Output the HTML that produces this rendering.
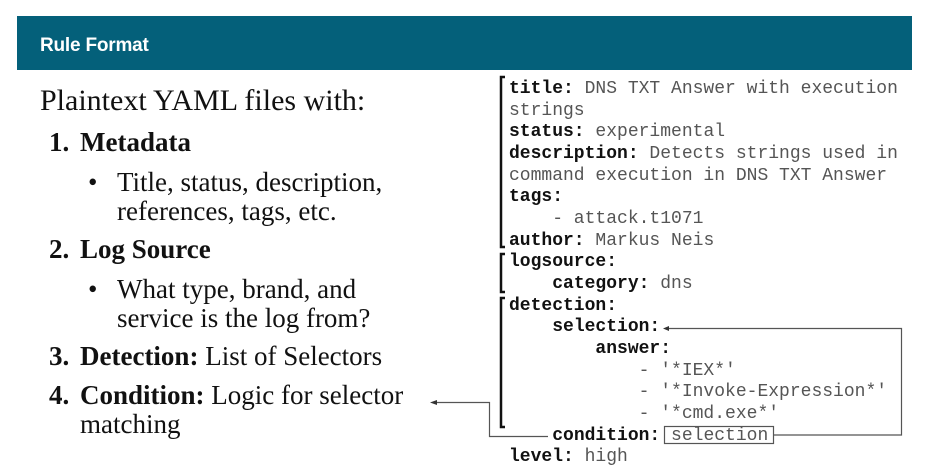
<!DOCTYPE html>
<html><head><meta charset="utf-8"><style>
body{margin:0;width:939px;height:474px;background:#fff;position:relative;overflow:hidden}
.bar{position:absolute;left:17px;top:16px;width:895px;height:54px;background:#04607a}
.bar span{position:absolute;left:23px;top:19px;color:#fff;font:bold 19px "Liberation Sans",sans-serif;letter-spacing:-0.2px}
.s{position:absolute;font-family:"Liberation Serif",serif;color:#111;white-space:nowrap;line-height:1;font-size:27px}
pre{position:absolute;left:509px;top:79px;margin:0;font:18px/21.65px "Liberation Mono",monospace;color:#555}
pre b{color:#111}
</style></head><body>
<div class="bar"><span>Rule Format</span></div>
<div class="s" style="left:40px;top:86px;font-size:30px">Plaintext YAML files with:</div>
<div class="s" style="left:49px;top:129px"><b>1.</b></div><div class="s" style="left:80px;top:129px"><b>Metadata</b></div>
<div class="s" style="left:88px;top:169px">•</div>
<div class="s" style="left:117px;top:169px">Title, status, description,</div>
<div class="s" style="left:117px;top:198px">references, tags, etc.</div>
<div class="s" style="left:49px;top:236px"><b>2.</b></div><div class="s" style="left:80px;top:236px"><b>Log Source</b></div>
<div class="s" style="left:88px;top:276px">•</div>
<div class="s" style="left:117px;top:276px">What type, brand, and</div>
<div class="s" style="left:117px;top:305px">service is the log from?</div>
<div class="s" style="left:49px;top:343px"><b>3.</b></div><div class="s" style="left:80px;top:343px"><b>Detection:</b> List of Selectors</div>
<div class="s" style="left:49px;top:382px"><b>4.</b></div><div class="s" style="left:80px;top:382px"><b>Condition:</b> Logic for selector</div>
<div class="s" style="left:80px;top:411px">matching</div>
<pre><b>title:</b> DNS TXT Answer with execution
strings
<b>status:</b> experimental
<b>description:</b> Detects strings used in
command execution in DNS TXT Answer
<b>tags:</b>
    - attack.t1071
<b>author:</b> Markus Neis
<b>logsource:</b>
    <b>category:</b> dns
<b>detection:</b>
    <b>selection:</b>
        <b>answer:</b>
            - '*IEX*'
            - '*Invoke-Expression*'
            - '*cmd.exe*'
    <b>condition:</b> selection
<b>level:</b> high</pre>
<svg width="939" height="474" style="position:absolute;left:0;top:0" fill="none">
<g stroke="#111" stroke-width="2.5">
<path d="M505 77 H501 V247 H505"/>
<path d="M505 254 H501 V292 H505"/>
<path d="M505 298 H501 V427 H505"/>
</g>
<g stroke="#555" stroke-width="1.2">
<rect x="664.5" y="426.5" width="109" height="17"/>
<path d="M774 435 H901.5 V328.5 H668"/>
<path d="M548 436.5 H489.5 V402.5 H436"/>
</g>
<path d="M663 328.5 L669 326 L669 331Z" fill="#333"/>
<path d="M430 402.5 L437 400 L437 405Z" fill="#333"/>
</svg>
</body></html>
